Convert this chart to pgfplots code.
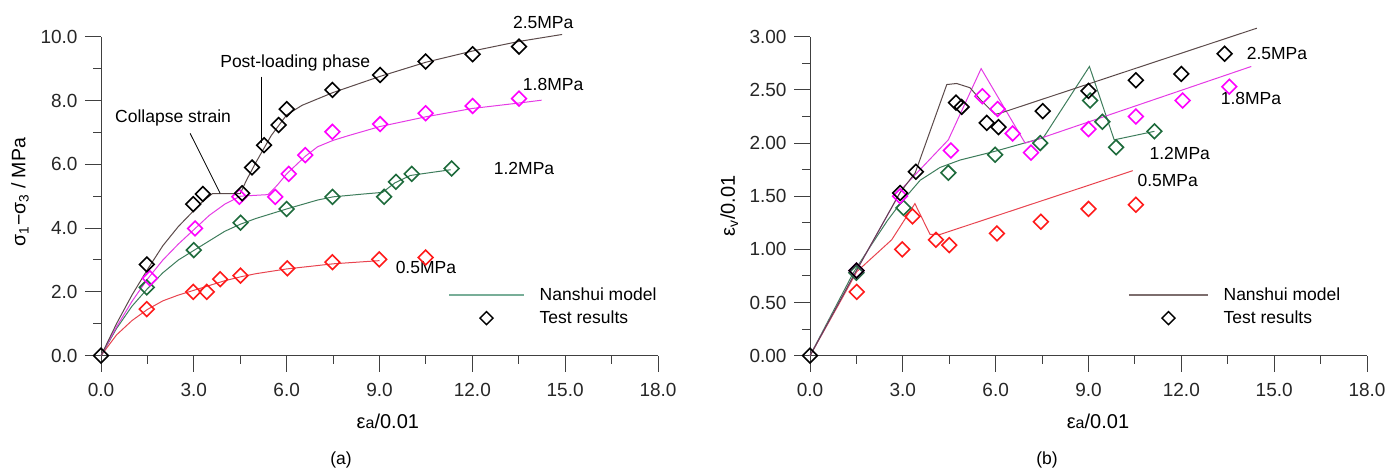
\documentclass[border=0pt]{standalone}
\usepackage{fontspec}
\setmainfont{Liberation Sans}
\usepackage{pgfplots}
\pgfplotsset{compat=1.18}
\definecolor{cBlkL}{HTML}{5B4A4A}
\definecolor{cMag}{HTML}{FF00FF}
\definecolor{cMagL}{HTML}{E53BE5}
\definecolor{cGrn}{HTML}{1E6B3C}
\definecolor{cGrnL}{HTML}{3E7D5C}
\definecolor{cRed}{HTML}{FF1A1A}
\definecolor{cRedL}{HTML}{E84450}
\definecolor{cLegA}{HTML}{78AE98}
\definecolor{cLegB}{HTML}{7D6E6E}
\definecolor{cAx}{HTML}{404040}
\pgfplotsset{
  mod/.style={no markers, line width=1bp},
  tst/.style={only marks, mark=square, mark size=5.2bp, mark options={rotate=45, line width=1.6bp}},
  base/.style={
    scale only axis, width=557bp, height=319bp, clip=false,
    axis x line=bottom, axis y line=left,
    axis line style={-, line width=1bp, cAx},
    tick style={line width=1bp, cAx},
    tick align=outside, major tick length=16bp, minor tick length=8bp,
    xmin=0, xmax=18, xtick={0,3,...,18}, minor x tick num=1,
    ymin=0,
    tick label style={font=\fontsize{19bp}{22bp}\selectfont, text=black!85},
    xticklabel style={yshift=-8bp, /pgf/number format/.cd, fixed, fixed zerofill, precision=1, assume math mode=true},
    yticklabel style={xshift=-4bp, /pgf/number format/.cd, fixed, fixed zerofill, assume math mode=true},
    legend cell align=left,
  }
}
\begin{document}
\begin{tikzpicture}[font=\fontsize{17.5bp}{21bp}\selectfont]
\useasboundingbox (0,0) rectangle (1387bp,472bp);
% ---------------- (a)
\begin{axis}[base, at={(101bp,116.3bp)}, anchor=south west,
  ymax=10, ytick={0,2,...,10}, minor y tick num=1,
  yticklabel style={/pgf/number format/precision=1},
  legend style={draw=none, fill=none, at={(axis cs:11.22,1.54)}, anchor=west, inner sep=0pt,
    row sep=7bp, column sep=14bp, font=\fontsize{17.5bp}{21bp}\selectfont, nodes={inner sep=1bp}}]
\addlegendimage{legend image code/.code={\draw[cLegA, line width=1.3bp] (0bp,0bp) -- (75bp,0bp);}}
\addlegendentry{Nanshui model}
\addlegendimage{legend image code/.code={\draw[black, line width=1.4bp] (37.5bp,-6.5bp) -- (44bp,0bp) -- (37.5bp,6.5bp) -- (31bp,0bp) -- cycle;}}
\addlegendentry{Test results}
% model lines
\addplot[mod, cRedL] coordinates {(0,0)(0.5,0.65)(1.0,1.1)(1.5,1.45)(2.0,1.72)(2.5,1.9)(3.0,2.05)(3.5,2.2)(4.0,2.35)(4.5,2.47)(5.0,2.57)(6.0,2.72)(7.5,2.88)(9.0,2.98)};
\addplot[mod, cGrnL] coordinates {(0,0)(0.5,0.85)(1.0,1.55)(1.5,2.1)(2.0,2.6)(2.5,3.0)(3.0,3.3)(3.5,3.6)(4.0,3.9)(4.5,4.12)(5.0,4.3)(6.0,4.6)(7.0,4.88)(7.5,4.98)(8.5,5.07)(9.1,5.12)(9.5,5.42)(10.0,5.65)(11.3,5.83)};
\addplot[mod, cMagL] coordinates {(0,0)(0.5,0.9)(1.0,1.7)(1.5,2.4)(2.0,3.0)(2.5,3.5)(3.0,3.95)(3.5,4.4)(4.0,4.75)(4.5,5.0)(5.4,5.05)(5.7,5.35)(6.0,5.7)(6.6,6.25)(7.0,6.55)(7.5,6.75)(8.0,6.9)(9.0,7.18)(10.5,7.49)(12.0,7.75)(13.5,7.92)(14.24,8.01)};
\addplot[mod, cBlkL] coordinates {(0,0)(0.5,1.0)(1.0,1.9)(1.5,2.7)(2.0,3.45)(2.5,4.05)(3.0,4.55)(3.3,4.85)(3.6,5.08)(4.5,5.08)(4.7,5.5)(5.0,6.05)(5.5,6.9)(6.0,7.55)(6.5,7.85)(7.5,8.25)(9.0,8.75)(10.5,9.2)(12.0,9.55)(13.5,9.85)(14.9,10.07)};
% test results
\addplot[tst, cRed] coordinates {(1.48,1.46)(2.98,2.0)(3.42,2.0)(3.85,2.4)(4.51,2.51)(6.02,2.74)(7.48,2.93)(8.99,3.02)(10.49,3.08)};
\addplot[tst, cGrn] coordinates {(1.48,2.14)(3.0,3.31)(4.51,4.17)(6.0,4.6)(7.48,4.98)(9.15,4.98)(9.53,5.45)(10.04,5.70)(11.33,5.87)};
\addplot[tst, cMag] coordinates {(1.58,2.43)(3.04,3.99)(4.47,4.98)(5.63,4.98)(6.07,5.70)(6.6,6.29)(7.48,7.02)(9.02,7.26)(10.49,7.6)(12.01,7.83)(13.51,8.06)};
\addplot[tst, black] coordinates {(0,0)(1.48,2.86)(2.98,4.75)(3.29,5.07)(4.56,5.09)(4.88,5.9)(5.27,6.6)(5.74,7.23)(6.0,7.73)(7.48,8.33)(9.02,8.8)(10.49,9.22)(12.01,9.45)(13.51,9.69)};
% annotations
\node[inner sep=0pt] at (axis cs:14.29,10.46) {2.5MPa};
\node[inner sep=0pt] at (axis cs:14.61,8.49) {1.8MPa};
\node[inner sep=0pt] at (axis cs:13.67,5.88) {1.2MPa};
\node[inner sep=0pt] at (axis cs:10.5,2.75) {0.5MPa};
\node[inner sep=0pt] at (axis cs:2.33,7.45) {Collapse strain};
\draw[black, line width=0.8bp] (axis cs:2.88,6.97) -- (axis cs:3.85,5.09);
\node[inner sep=0pt, anchor=west] at (axis cs:3.85,9.17) {Post-loading phase};
\draw[black, line width=0.8bp] (axis cs:5.17,8.75) -- (axis cs:5.17,6.66);
\node[inner sep=0pt, rotate=90, font=\fontsize{19.5bp}{22bp}\selectfont] at (axis description cs:-0.1454,0.513) {σ\textsubscript{1}−σ\textsubscript{3} / MPa};
\node[inner sep=0pt, font=\fontsize{20bp}{22bp}\selectfont] at (axis description cs:0.515,-0.207) {ε{\fontsize{16bp}{18bp}\selectfont a}/0.01};
\node[inner sep=0pt] at (axis description cs:0.431,-0.327) {(a)};
\end{axis}
% ---------------- (b)
\begin{axis}[base, at={(810bp,116.3bp)}, anchor=south west,
  ymax=3, ytick={0,0.5,...,3}, minor y tick num=1,
  yticklabel style={/pgf/number format/precision=2},
  legend style={draw=none, fill=none, at={(axis cs:10.28,0.463)}, anchor=west, inner sep=0pt,
    row sep=7bp, column sep=14bp, font=\fontsize{17.5bp}{21bp}\selectfont, nodes={inner sep=1bp}}]
\addlegendimage{legend image code/.code={\draw[cLegB, line width=1.3bp] (0bp,0bp) -- (79bp,0bp);}}
\addlegendentry{Nanshui model}
\addlegendimage{legend image code/.code={\draw[black, line width=1.4bp] (39.5bp,-6.5bp) -- (46bp,0bp) -- (39.5bp,6.5bp) -- (33bp,0bp) -- cycle;}}
\addlegendentry{Test results}
\addplot[mod, cRedL] coordinates {(0,0)(1.0,0.52)(1.51,0.79)(2.0,0.92)(2.64,1.09)(3.39,1.43)(3.88,1.14)(4.2,1.14)(10.43,1.74)};
\addplot[mod, cGrnL] coordinates {(0,0)(1.4,0.78)(2.0,1.05)(2.5,1.27)(2.91,1.43)(3.56,1.65)(4.2,1.77)(4.85,1.84)(5.95,1.92)(7.54,2.05)(9.03,2.72)(9.83,2.03)(11.13,2.11)};
\addplot[mod, cMagL] coordinates {(0,0)(1.5,0.8)(3.0,1.58)(4.47,2.03)(5.53,2.70)(6.95,2.0)(7.2,2.02)(14.26,2.72)};
\addplot[mod, cBlkL] coordinates {(0,0)(1.5,0.8)(2.9,1.53)(3.4,1.72)(4.42,2.55)(4.74,2.56)(5.17,2.52)(5.5,2.41)(5.98,2.27)(6.14,2.28)(14.44,3.08)};
\addplot[tst, cRed] coordinates {(1.51,0.60)(2.98,1.00)(3.31,1.31)(4.07,1.09)(4.50,1.04)(6.04,1.15)(7.46,1.26)(9.0,1.38)(10.53,1.42)};
\addplot[tst, cGrn] coordinates {(1.5,0.78)(3.02,1.39)(4.47,1.72)(5.98,1.89)(7.44,2.00)(9.05,2.40)(9.45,2.20)(9.89,1.96)(11.13,2.11)};
\addplot[tst, cMag] coordinates {(1.5,0.8)(2.91,1.50)(4.55,1.93)(5.57,2.44)(6.06,2.32)(6.55,2.09)(7.14,1.91)(9.0,2.13)(10.53,2.25)(12.04,2.40)(13.55,2.53)};
\addplot[tst, black] coordinates {(0,0)(1.5,0.8)(2.91,1.53)(3.42,1.73)(4.72,2.38)(4.9,2.34)(5.71,2.19)(6.09,2.15)(7.52,2.30)(9.0,2.49)(10.53,2.59)(12.0,2.65)(13.4,2.84)};
\node[inner sep=0pt] at (axis cs:15.09,2.845) {2.5MPa};
\node[inner sep=0pt] at (axis cs:14.25,2.42) {1.8MPa};
\node[inner sep=0pt] at (axis cs:11.95,1.90) {1.2MPa};
\node[inner sep=0pt] at (axis cs:11.56,1.65) {0.5MPa};
\node[inner sep=0pt, rotate=90, font=\fontsize{20bp}{22bp}\selectfont] at (axis description cs:-0.145,0.47) {ε\textsubscript{v}/0.01};
\node[inner sep=0pt, font=\fontsize{20bp}{22bp}\selectfont] at (axis description cs:0.517,-0.207) {ε{\fontsize{16bp}{18bp}\selectfont a}/0.01};
\node[inner sep=0pt] at (axis description cs:0.4255,-0.327) {(b)};
\end{axis}
\end{tikzpicture}
\end{document}
